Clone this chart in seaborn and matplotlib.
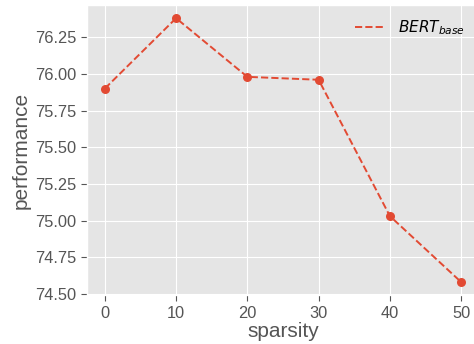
import matplotlib
matplotlib.use("Agg")
import matplotlib.pyplot as plt
from matplotlib.lines import Line2D
import seaborn as sns
import pandas as pd

# values
sparsity = [0, 10, 20, 30, 40, 50]
performance = [75.90, 76.38, 75.98, 75.96, 75.03, 74.58]
yticks = [74.50, 74.75, 75.00, 75.25, 75.50, 75.75, 76.00, 76.25]
series_label = r"$BERT_{base}$"

plt.style.use("ggplot")
plt.rcParams["font.family"] = ["Liberation Sans", "DejaVu Sans"]

df = pd.DataFrame({"sparsity": sparsity, "performance": performance})
line_color = "#E24A33"

fig = plt.figure(figsize=(4.74, 3.44), dpi=100)
ax = fig.add_axes([87 / 474, 48.7 / 344, 392 / 474, 290.3 / 344])

sns.lineplot(data=df, x="sparsity", y="performance", ax=ax,
             color=line_color, linestyle="--", marker="o", markersize=6.5,
             markeredgewidth=0, linewidth=1.4)

ax.set_xlim(-2.5, 52.5)
ax.set_ylim(74.49, 76.47)
ax.set_xticks(sparsity)
ax.set_yticks(yticks)
ax.set_yticklabels([f"{v:.2f}" for v in yticks])
ax.tick_params(labelsize=11.8, colors="#555555", length=4)
ax.set_xlabel("sparsity", fontsize=15, color="#555555", labelpad=1)
ax.set_ylabel("performance", fontsize=15, color="#555555", labelpad=3)

# legend shows only the dashed line, no marker
handle = Line2D([], [], color=line_color, linestyle="--", linewidth=1.4)
ax.legend([handle], [series_label], loc="upper right", frameon=False,
          fontsize=11, bbox_to_anchor=(0.998, 1.0))

fig.savefig("out.png", dpi=100)
